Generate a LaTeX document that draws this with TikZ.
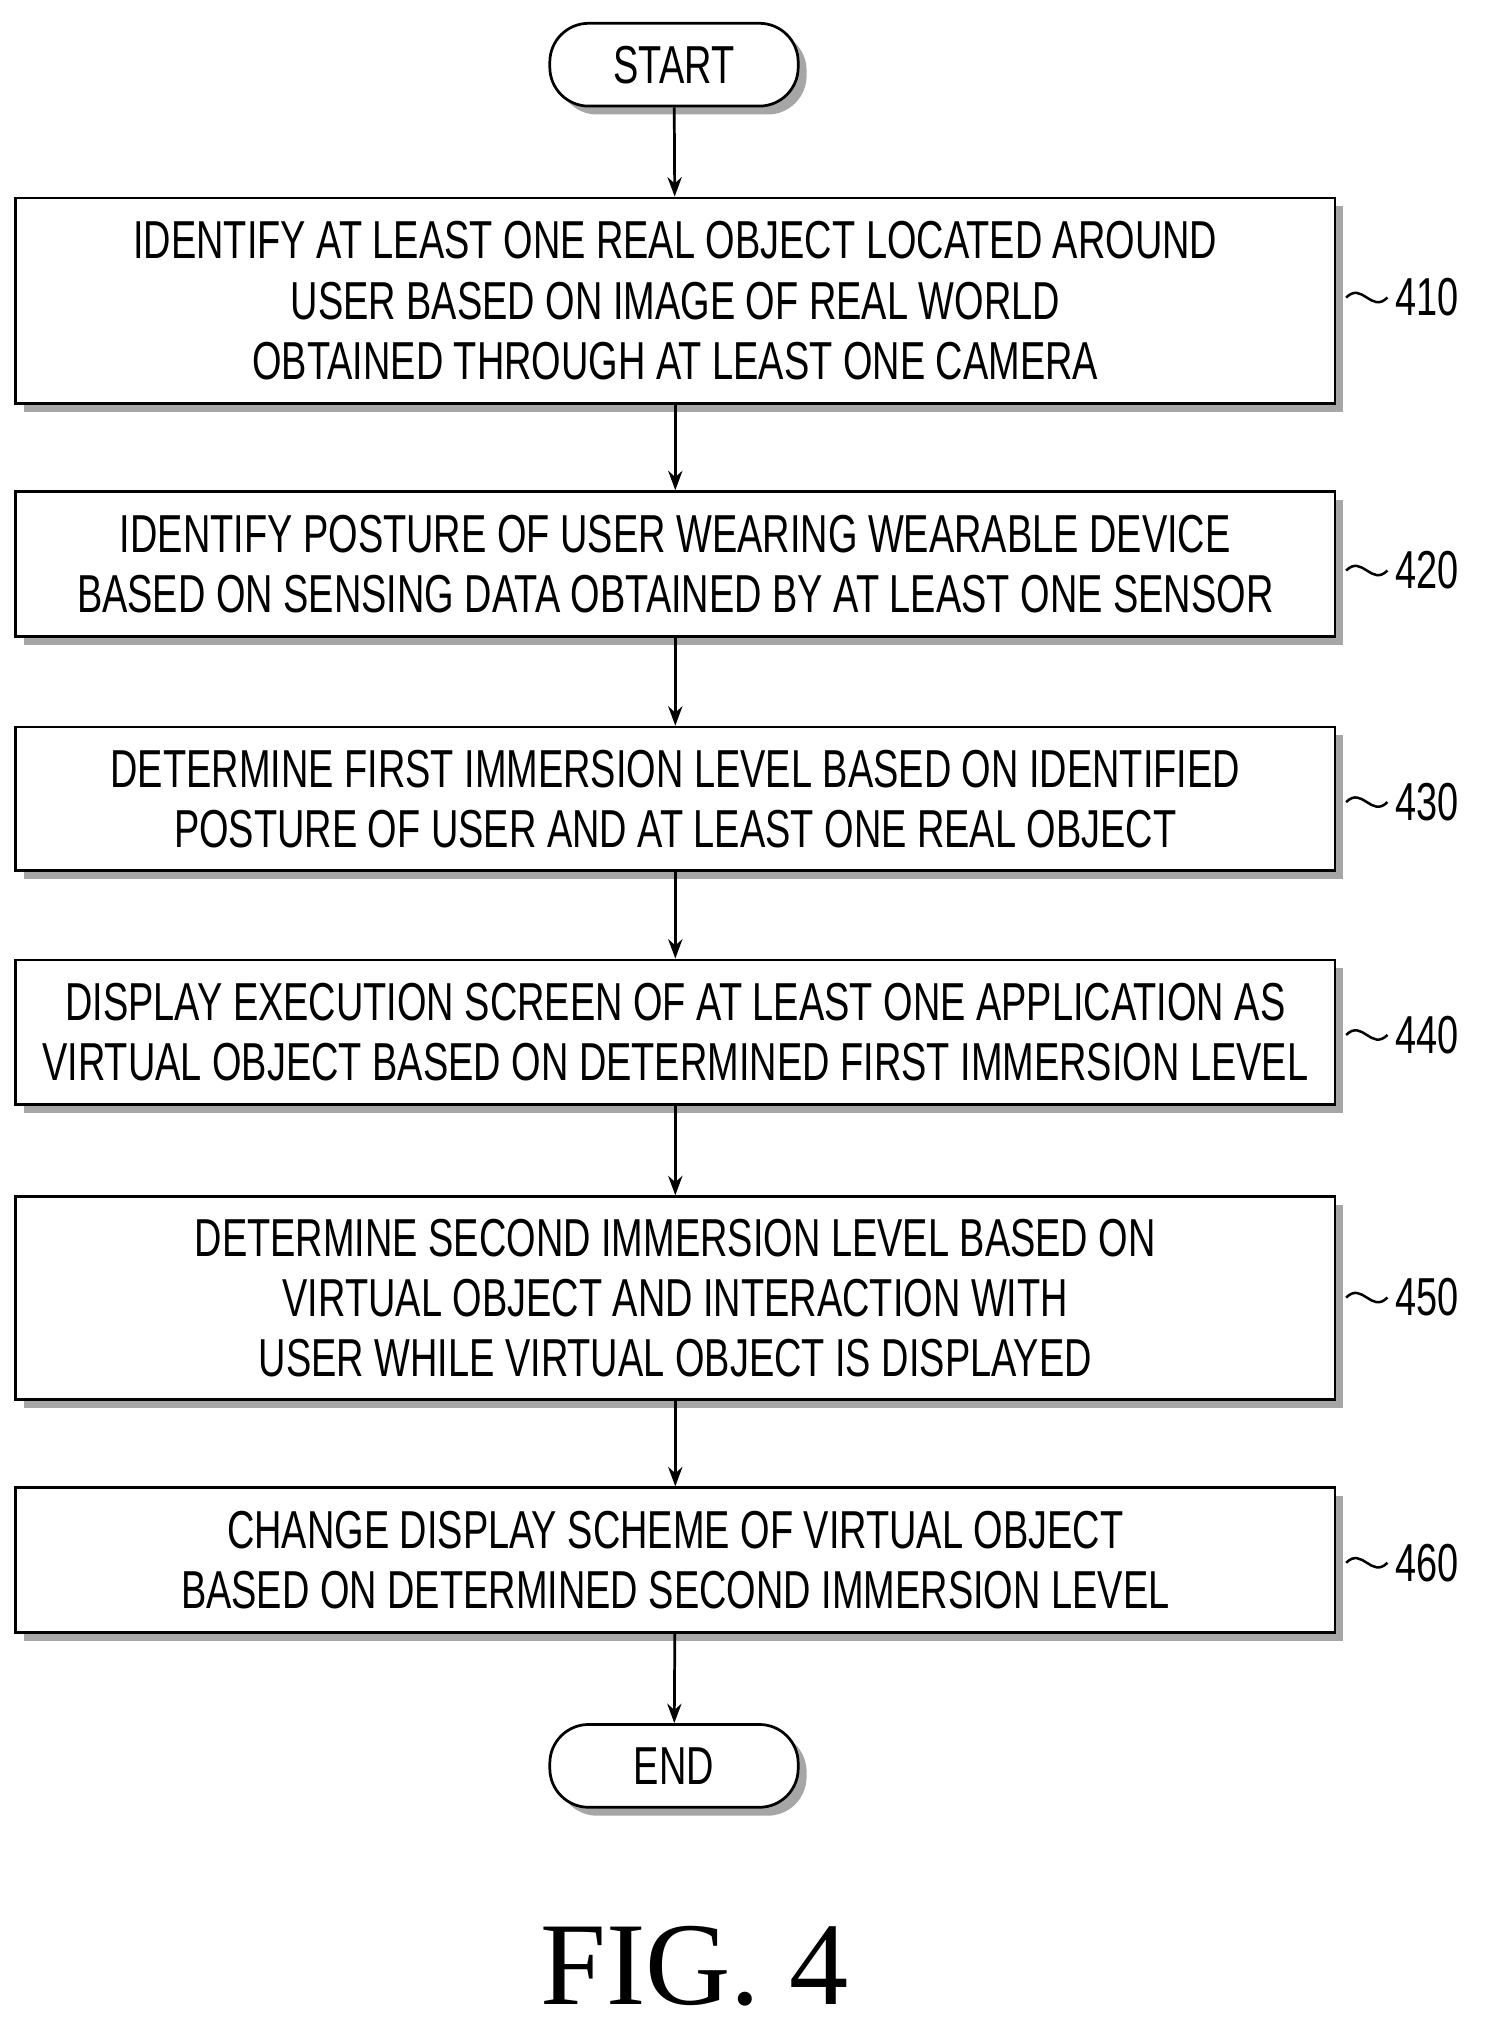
\documentclass[tikz,border=0pt]{standalone}
\usepackage{fontspec}
\usepackage{tikz}
\usetikzlibrary{shadows,arrows.meta}
\setmainfont{Liberation Serif}
\newfontfamily\flowfont[FakeStretch=0.71]{Liberation Sans}

\tikzset{
  stepbox/.style={draw, line width=1.2pt, fill=white, minimum width=20.4cm, align=center,
    font=\flowfont\fontsize{23.5}{26.5}\selectfont,
    drop shadow={shadow xshift=0.13cm, shadow yshift=-0.13cm, fill=gray!70, opacity=1}},
  termbox/.style={stepbox, rounded corners=0.6cm, minimum width=3.84cm, minimum height=1.28cm},
  steplabel/.style={font=\flowfont\fontsize{23.5}{26.5}\selectfont, anchor=west},
  flow/.style={-{Stealth[length=0.3cm,width=0.22cm]}, line width=1.2pt}
}

\begin{document}
\begin{tikzpicture}
            \useasboundingbox (0,0) rectangle (23.16,-31.6);
            \node[termbox] (start) at (10.42,-1.0) {START};
            \node[stepbox, minimum height=3.18cm] (b1) at (10.44,-4.65) {IDENTIFY AT LEAST ONE REAL OBJECT LOCATED AROUND\\USER BASED ON IMAGE OF REAL WORLD\\OBTAINED THROUGH AT LEAST ONE CAMERA};
            \node[stepbox, minimum height=2.24cm] (b2) at (10.44,-8.72) {IDENTIFY POSTURE OF USER WEARING WEARABLE DEVICE\\BASED ON SENSING DATA OBTAINED BY AT LEAST ONE SENSOR};
            \node[stepbox, minimum height=2.22cm] (b3) at (10.44,-12.35) {DETERMINE FIRST IMMERSION LEVEL BASED ON IDENTIFIED\\POSTURE OF USER AND AT LEAST ONE REAL OBJECT};
            \node[stepbox, minimum height=2.24cm] (b4) at (10.44,-15.96) {DISPLAY EXECUTION SCREEN OF AT LEAST ONE APPLICATION AS\\VIRTUAL OBJECT BASED ON DETERMINED FIRST IMMERSION LEVEL};
            \node[stepbox, minimum height=3.14cm] (b5) at (10.44,-20.07) {DETERMINE SECOND IMMERSION LEVEL BASED ON\\VIRTUAL OBJECT AND INTERACTION WITH\\USER WHILE VIRTUAL OBJECT IS DISPLAYED};
            \node[stepbox, minimum height=2.24cm] (b6) at (10.44,-24.12) {CHANGE DISPLAY SCHEME OF VIRTUAL OBJECT\\BASED ON DETERMINED SECOND IMMERSION LEVEL};
            \node[termbox] (end) at (10.42,-27.3) {END};

            % step numbers
            \foreach \b/\y/\t in {b1/-4.6/410, b2/-8.82/420, b3/-12.4/430, b4/-16.0/440, b5/-20.06/450, b6/-24.16/460} {
              \node[steplabel] (l\t) at (21.45,\y) {\t};
              \draw[line width=1.1pt] (\b.east |- l\t.west) ++(0.15,0) .. controls +(0.25,0.25) and +(-0.25,-0.25) .. (l\t.west);
            }

            \draw[flow] (start) -- (b1);
            \draw[flow] (b1) -- (b2);
            \draw[flow] (b2) -- (b3);
            \draw[flow] (b3) -- (b4);
            \draw[flow] (b4) -- (b5);
            \draw[flow] (b5) -- (b6);
            \draw[flow] (b6) -- (end);

            \node[font=\fontsize{52}{56}\selectfont] (fig) at (10.74,-30.4) {FIG. 4};
\end{tikzpicture}
\end{document}
